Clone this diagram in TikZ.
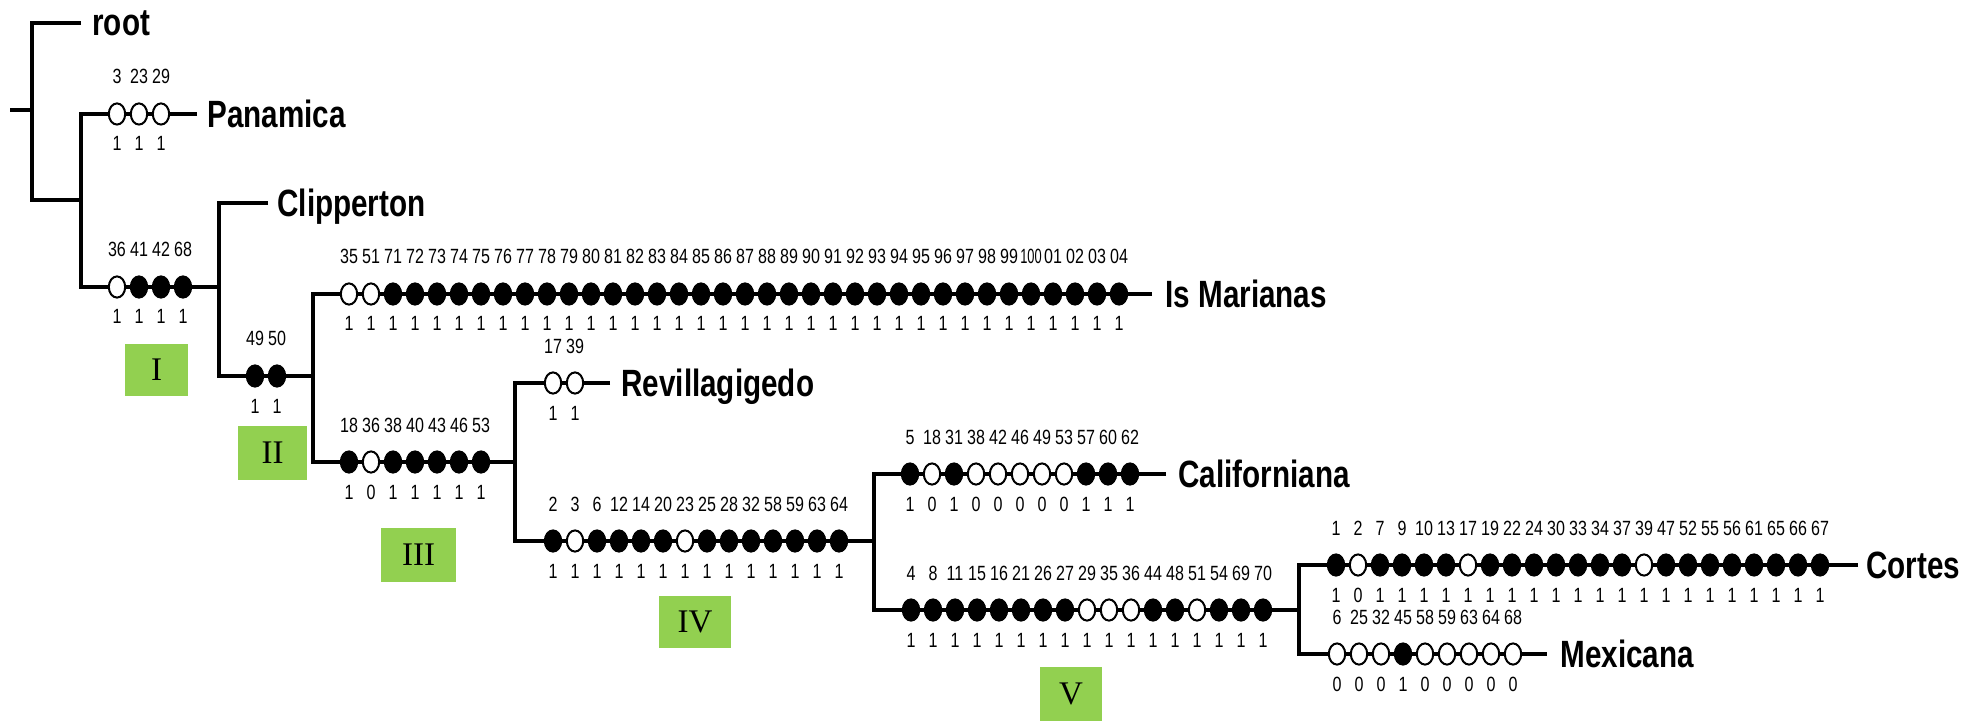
\documentclass[tikz,border=0pt]{standalone}
\usepackage{fontspec}
\usetikzlibrary{shapes.geometric}
\newfontfamily\numfont[FakeStretch=0.78]{Liberation Sans}
\newfontfamily\romfont{Liberation Serif}
\definecolor{cladegreen}{HTML}{92D050}

\tikzset{
  branch/.style={line width=1.7pt},
  state/.style={draw=black, ellipse, line width=1pt, minimum width=8.2pt, minimum height=10.6pt, inner sep=0pt},
  num/.style={font=\numfont\fontsize{10.3pt}{12pt}\selectfont, anchor=base, inner sep=0pt},
  taxon/.style={font=\numfont\bfseries\fontsize{19pt}{22pt}\selectfont, anchor=base west, inner sep=0pt},
  clade/.style={fill=cladegreen, font=\romfont\fontsize{16.5pt}{18pt}\selectfont, inner sep=0pt},
}

% a row of character states: name, x of first state, y of branch, {label/colour/value,...}
\newcommand\charrow[4]{%
  \foreach \lbl/\col/\val [count=\k from 0] in {#4}{%
    \node[state, fill=\col] (#1-\k) at ({#2+22*\k},#3) {};
    \node[num] (#1-t\k) at ({#2+22*\k},{#3-30}) {\lbl};
    \node[num] (#1-b\k) at ({#2+22*\k},{#3+37}) {\val};
  }}

\begin{document}
\begin{tikzpicture}[x=0.5pt, y=-0.5pt]
\useasboundingbox (0,0) rectangle (1968,721);

% tree skeleton
\coordinate (stub) at (10,110);
\coordinate (n0) at (32,110);  \coordinate (n0t) at (32,23);   \coordinate (n0b) at (32,200);
\coordinate (rootend) at (81,23);
\coordinate (n1) at (81,200);  \coordinate (n1t) at (81,114);  \coordinate (n1b) at (81,287);
\coordinate (panend) at (197,114);
\coordinate (n2) at (219,287); \coordinate (n2t) at (219,203); \coordinate (n2b) at (219,376);
\coordinate (clipend) at (268,203);
\coordinate (n3) at (313,376); \coordinate (n3t) at (313,294); \coordinate (n3b) at (313,462);
\coordinate (marend) at (1152,294);
\coordinate (n4) at (515,462); \coordinate (n4t) at (515,383); \coordinate (n4b) at (515,541);
\coordinate (revend) at (610,383);
\coordinate (n5) at (874,541); \coordinate (n5t) at (874,474); \coordinate (n5b) at (874,610);
\coordinate (calend) at (1166,474);
\coordinate (n6) at (1299,610); \coordinate (n6t) at (1299,565); \coordinate (n6b) at (1299,654);
\coordinate (corend) at (1858,565);
\coordinate (mexend) at (1547,654);

\draw[branch] (stub) -- (n0);
\draw[branch] (rootend) -- (n0t) -- (n0b) -- (n1);
\draw[branch] (panend) -- (n1t) -- (n1b) -- (n2);
\draw[branch] (clipend) -- (n2t) -- (n2b) -- (n3);
\draw[branch] (marend) -- (n3t) -- (n3b) -- (n4);
\draw[branch] (revend) -- (n4t) -- (n4b) -- (n5);
\draw[branch] (calend) -- (n5t) -- (n5b) -- (n6);
\draw[branch] (corend) -- (n6t) -- (n6b) -- (mexend);

% terminal names
\node[taxon] (troot) at (92,36) {root};
\node[taxon] (tpan) at (207,127.5) {Panamica};
\node[taxon] (tclip) at (277,216.5) {Clipperton};
\node[taxon] (tmar) at (1165,307.5) {Is Marianas};
\node[taxon] (trev) at (621,396.5) {Revillagigedo};
\node[taxon] (tcal) at (1178,487.5) {Californiana};
\node[taxon] (tcor) at (1866,578.5) {Cortes};
\node[taxon] (tmex) at (1560,667.5) {Mexicana};

% character states along the branches
\charrow{pan}{117}{114}{3/white/1,23/white/1,29/white/1}
\charrow{cI}{117}{287}{36/white/1,41/black/1,42/black/1,68/black/1}
\charrow{cII}{255}{376}{49/black/1,50/black/1}
\charrow{mar}{349}{294}{35/white/1,51/white/1,71/black/1,72/black/1,73/black/1,74/black/1,75/black/1,76/black/1,77/black/1,78/black/1,79/black/1,80/black/1,81/black/1,82/black/1,83/black/1,84/black/1,85/black/1,86/black/1,87/black/1,88/black/1,89/black/1,90/black/1,91/black/1,92/black/1,93/black/1,94/black/1,95/black/1,96/black/1,97/black/1,98/black/1,99/black/1,{\scalebox{0.8}[1]{100}}/black/1,01/black/1,02/black/1,03/black/1,04/black/1}
\charrow{cIII}{349}{462}{18/black/1,36/white/0,38/black/1,40/black/1,43/black/1,46/black/1,53/black/1}
\charrow{rev}{553}{383}{17/white/1,39/white/1}
\charrow{cIV}{553}{541}{2/black/1,3/white/1,6/black/1,12/black/1,14/black/1,20/black/1,23/white/1,25/black/1,28/black/1,32/black/1,58/black/1,59/black/1,63/black/1,64/black/1}
\charrow{cal}{910}{474}{5/black/1,18/white/0,31/black/1,38/white/0,42/white/0,46/white/0,49/white/0,53/white/0,57/black/1,60/black/1,62/black/1}
\charrow{cV}{911}{610}{4/black/1,8/black/1,11/black/1,15/black/1,16/black/1,21/black/1,26/black/1,27/black/1,29/white/1,35/white/1,36/white/1,44/black/1,48/black/1,51/white/1,54/black/1,69/black/1,70/black/1}
\charrow{cor}{1336}{565}{1/black/1,2/white/0,7/black/1,9/black/1,10/black/1,13/black/1,17/white/1,19/black/1,22/black/1,24/black/1,30/black/1,33/black/1,34/black/1,37/black/1,39/white/1,47/black/1,52/black/1,55/black/1,56/black/1,61/black/1,65/black/1,66/black/1,67/black/1}
\charrow{mex}{1337}{654}{6/white/0,25/white/0,32/white/0,45/black/1,58/white/0,59/white/0,63/white/0,64/white/0,68/white/0}

% clade boxes
\node[clade, minimum width=31.5pt, minimum height=26pt] (boxI) at (156.5,370) {I};
\node[clade, minimum width=34.5pt, minimum height=27pt] (boxII) at (272.5,453) {II};
\node[clade, minimum width=37.5pt, minimum height=27pt] (boxIII) at (418.5,555) {III};
\node[clade, minimum width=36pt, minimum height=26pt] (boxIV) at (695,622) {IV};
\node[clade, minimum width=31pt, minimum height=27pt] (boxV) at (1071,694) {V};
\end{tikzpicture}
\end{document}
